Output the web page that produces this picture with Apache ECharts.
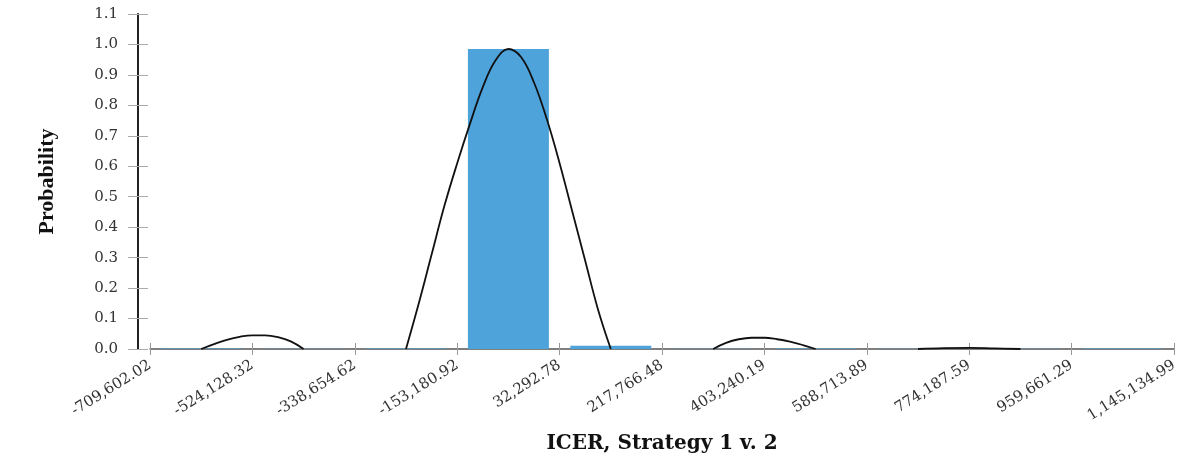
<!DOCTYPE html>
<html>
<head>
<meta charset="utf-8">
<script src="https://cdn.jsdelivr.net/npm/echarts@6/dist/echarts.min.js"></script>
<style>
  html, body { margin: 0; padding: 0; background: #ffffff; }
  #chart { width: 1204px; height: 461px; }
</style>
</head>
<body>
<div id="chart"></div>
<script>
// Bin edges (tick labels) of the ICER histogram
const xTickLabels = [
  '-709,602.02', '-524,128.32', '-338,654.62', '-153,180.92', '32,292.78',
  '217,766.48', '403,240.19', '588,713.89', '774,187.59', '959,661.29', '1,145,134.99'
];
// Probability of each bin (bin i lies between tick i and tick i+1)
const binProbabilities = [0.002, 0.001, 0.002, 0.985, 0.011, 0.001, 0.002, 0.001, 0.001, 0.002];
// Fitted curve: position in bin units and probability
// (null separates the pieces where the curve lies on the axis)
const curveX = [
  0.5, 0.625, 0.75, 0.875, 1.0, 1.125, 1.25, 1.375, 1.5, 2.0,
  2.5, 2.625, 2.75, 2.875, 3.0, 3.125, 3.25, 3.375, 3.5,
  3.625, 3.75, 3.875, 4.0, 4.125, 4.25, 4.375, 4.5, 5.0,
  5.5, 5.625, 5.75, 5.875, 6.0, 6.125, 6.25, 6.375, 6.5, 7.0,
  7.5, 7.75, 8.0, 8.25, 8.5
];
const curveY = [
  0, 0.016, 0.030, 0.040, 0.045, 0.045, 0.039, 0.025, 0, null,
  0, 0.15, 0.31, 0.47, 0.61, 0.74, 0.86, 0.948, 0.985,
  0.958, 0.875, 0.755, 0.61, 0.45, 0.29, 0.13, 0, null,
  0, 0.020, 0.032, 0.037, 0.037, 0.032, 0.024, 0.013, 0, null,
  0, 0.003, 0.004, 0.002, 0
];

const barData = binProbabilities.map((v, i) => [i + 0.5, v]);
const lineData = curveX.map((x, i) => [x, curveY[i] === null ? '-' : curveY[i]]);
const yMax = 1.1, yStep = 0.1;

const chart = echarts.init(document.getElementById('chart'), null, { renderer: 'canvas' });
const tickFont = 'DejaVu Serif';
chart.setOption({
  animation: false,
  backgroundColor: '#ffffff',
  grid: [
    { left: 138, right: 30, top: 14, bottom: 112, containLabel: false },
    { left: 150, right: 30, top: 14, bottom: 112, containLabel: false }
  ],
  xAxis: [
    { type: 'value', gridIndex: 0, min: 0, max: 1, show: false },
    {
      type: 'value', gridIndex: 1, min: 0, max: xTickLabels.length - 1, interval: 1,
      name: 'ICER, Strategy 1 v. 2', nameLocation: 'middle', nameGap: 85,
      nameTextStyle: { fontFamily: 'DejaVu Serif', fontWeight: 'bold', fontSize: 20, color: '#111' },
      axisLine: { show: true, onZero: false, lineStyle: { color: '#555', width: 1.5 } },
      axisTick: { show: true, inside: false, length: 6, lineStyle: { color: '#999', width: 1 } },
      splitLine: { show: false },
      axisLabel: {
        rotate: 32, margin: 15, fontFamily: tickFont, fontSize: 15, color: '#333',
        formatter: v => xTickLabels[Math.round(v)] || ''
      }
    },
    {
      type: 'value', gridIndex: 1, min: 0, max: xTickLabels.length - 1, interval: 1, position: 'bottom',
      axisLine: { show: false, onZero: false },
      axisTick: { show: true, inside: true, length: 6, lineStyle: { color: '#999', width: 1 } },
      axisLabel: { show: false }, splitLine: { show: false }
    }
  ],
  yAxis: [
    {
      type: 'value', gridIndex: 0, min: 0, max: yMax, interval: yStep,
      name: 'Probability', nameLocation: 'middle', nameGap: 80, nameRotate: 90,
      nameTextStyle: { fontFamily: 'Liberation Serif', fontWeight: 'bold', fontSize: 22, color: '#111' },
      axisLine: { show: true, lineStyle: { color: '#222', width: 2 } },
      axisTick: { show: true, inside: false, length: 10, lineStyle: { color: '#aaa', width: 1 } },
      splitLine: { show: false },
      axisLabel: {
        margin: 20, fontFamily: tickFont, fontSize: 15, color: '#333',
        formatter: v => v.toFixed(1)
      }
    },
    {
      type: 'value', gridIndex: 0, min: 0, max: yMax, interval: yStep, position: 'left',
      axisLine: { show: false },
      axisTick: { show: true, inside: true, length: 10, lineStyle: { color: '#aaa', width: 1 } },
      axisLabel: { show: false }, splitLine: { show: false }
    },
    { type: 'value', gridIndex: 1, min: 0, max: yMax, interval: yStep, show: false }
  ],
  series: [
    {
      type: 'bar', xAxisIndex: 1, yAxisIndex: 2, data: barData,
      barWidth: 81, itemStyle: { color: '#4ea3da' }, z: 2
    },
    {
      type: 'line', xAxisIndex: 1, yAxisIndex: 2, data: lineData,
      smooth: 0.4, connectNulls: false, symbol: 'none', showSymbol: false,
      lineStyle: { color: '#111', width: 1.8 }, z: 3
    }
  ]
});
</script>
</body>
</html>
